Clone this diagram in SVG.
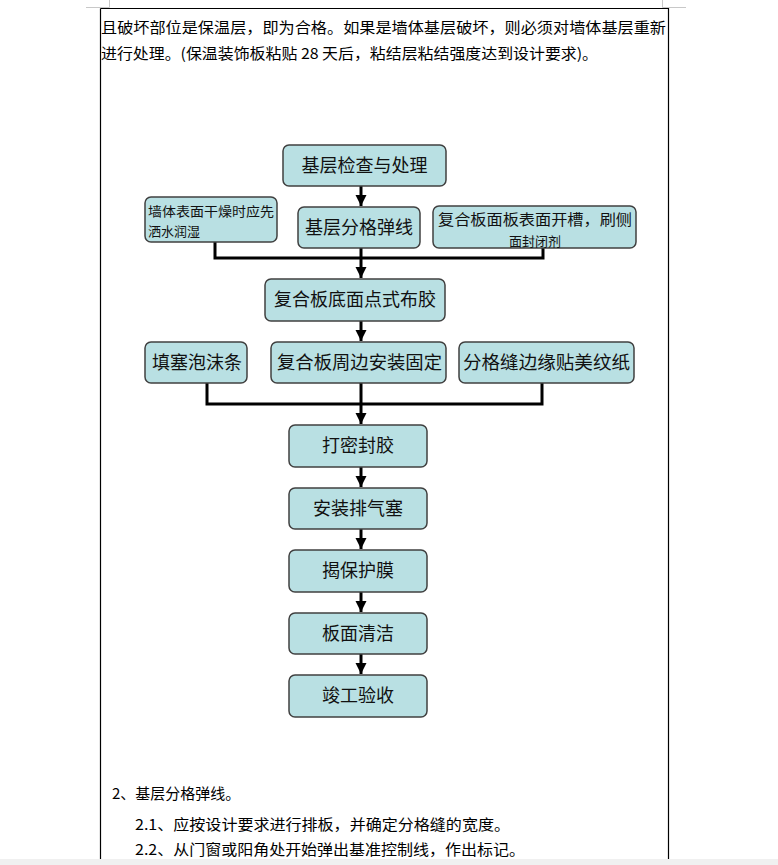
<svg xmlns="http://www.w3.org/2000/svg" width="778" height="865" viewBox="0 0 778 865">
<style>
.body{font-family:"Noto Sans CJK SC","Liberation Sans",sans-serif;font-size:15px;fill:#000}
.box rect{fill:#b9e0e3;stroke:#404040;stroke-width:1.5}
.box text{font-family:"Noto Sans CJK SC","Liberation Sans",sans-serif;font-size:18px;fill:#111;text-anchor:middle}
.box text.s{font-size:13px}
.box text.m{font-size:15px}
.conn path{fill:none;stroke:#000;stroke-width:3}
.mark{stroke:#c8c8c8;stroke-width:1;fill:none}
</style>
<defs>
<marker id="ah" markerUnits="userSpaceOnUse" markerWidth="12" markerHeight="12" refX="11" refY="5.5" orient="auto">
<path d="M0,0 L11,5.5 L0,11 z" fill="#000"/>
</marker>
</defs>
<rect width="778" height="865" fill="#fff"/>
<path class="mark" d="M86,7.5 H109.5 V0 M662.5,0 V7.5 H686"/>
<path d="M100.5,8.5 H668.5 V859 M100.5,8.5 V859" fill="none" stroke="#000" stroke-width="1.2"/>
<rect x="0" y="859" width="778" height="6" fill="#f0f0f0"/>
<text class="body" x="101" y="33" textLength="565" lengthAdjust="spacingAndGlyphs">且破坏部位是保温层，即为合格。如果是墙体基层破坏，则必须对墙体基层重新</text>
<text class="body" x="101" y="59" textLength="497" lengthAdjust="spacingAndGlyphs">进行处理。(保温装饰板粘贴 28 天后，粘结层粘结强度达到设计要求)。</text>
<g id="connectors" class="conn">
<path d="M361,186 V206" marker-end="url(#ah)"/>
<path d="M215,242 V258 H543 V248 M361,248 V278" marker-end="url(#ah)"/>
<path d="M361,321 V341" marker-end="url(#ah)"/>
<path d="M207,383 V404 H542 V383 M361,383 V424" marker-end="url(#ah)"/>
<path d="M361,467 V487" marker-end="url(#ah)"/>
<path d="M361,529 V549" marker-end="url(#ah)"/>
<path d="M361,592 V612" marker-end="url(#ah)"/>
<path d="M361,654 V674" marker-end="url(#ah)"/>
</g>
<g id="n1" class="box"><rect x="283" y="145" width="163" height="41" rx="6"/><text x="364.5" y="172">基层检查与处理</text></g>
<g id="n2" class="box"><rect x="145" y="197" width="132" height="45" rx="6"/><text class="s" x="148" y="216" style="text-anchor:start" textLength="126" lengthAdjust="spacingAndGlyphs">墙体表面干燥时应先</text><text class="s" x="148" y="236" style="text-anchor:start">洒水润湿</text></g>
<g id="n3" class="box"><rect x="298" y="207" width="122" height="41" rx="6"/><text x="359" y="234">基层分格弹线</text></g>
<g id="n4" class="box"><rect x="433" y="206" width="203" height="42" rx="6"/><text class="m" x="535" y="225" textLength="194" lengthAdjust="spacingAndGlyphs">复合板面板表面开槽，刷侧</text><text class="s" x="535" y="246">面封闭剂</text></g>
<g id="n5" class="box"><rect x="265" y="279" width="180" height="42" rx="6"/><text x="355" y="306">复合板底面点式布胶</text></g>
<g id="n6" class="box"><rect x="145" y="342" width="102" height="41" rx="6"/><text x="197" y="369">填塞泡沫条</text></g>
<g id="n7" class="box"><rect x="271" y="342" width="175" height="41" rx="6"/><text x="359.5" y="369" textLength="165" lengthAdjust="spacingAndGlyphs">复合板周边安装固定</text></g>
<g id="n8" class="box"><rect x="459" y="342" width="175" height="41" rx="6"/><text x="546.5" y="369" textLength="167" lengthAdjust="spacingAndGlyphs">分格缝边缘贴美纹纸</text></g>
<g id="n9" class="box"><rect x="289" y="425" width="138" height="42" rx="6"/><text x="358" y="452">打密封胶</text></g>
<g id="n10" class="box"><rect x="289" y="488" width="138" height="41" rx="6"/><text x="358" y="515">安装排气塞</text></g>
<g id="n11" class="box"><rect x="289" y="550" width="138" height="42" rx="6"/><text x="358" y="577">揭保护膜</text></g>
<g id="n12" class="box"><rect x="289" y="613" width="138" height="41" rx="6"/><text x="358" y="640">板面清洁</text></g>
<g id="n13" class="box"><rect x="289" y="675" width="138" height="42" rx="6"/><text x="358" y="702">竣工验收</text></g>
<text class="body" x="112" y="799">2、基层分格弹线。</text>
<text class="body" x="135" y="830" textLength="375" lengthAdjust="spacingAndGlyphs">2.1、应按设计要求进行排板，并确定分格缝的宽度。</text>
<text class="body" x="135" y="855" textLength="390" lengthAdjust="spacingAndGlyphs">2.2、从门窗或阳角处开始弹出基准控制线，作出标记。</text>
</svg>
